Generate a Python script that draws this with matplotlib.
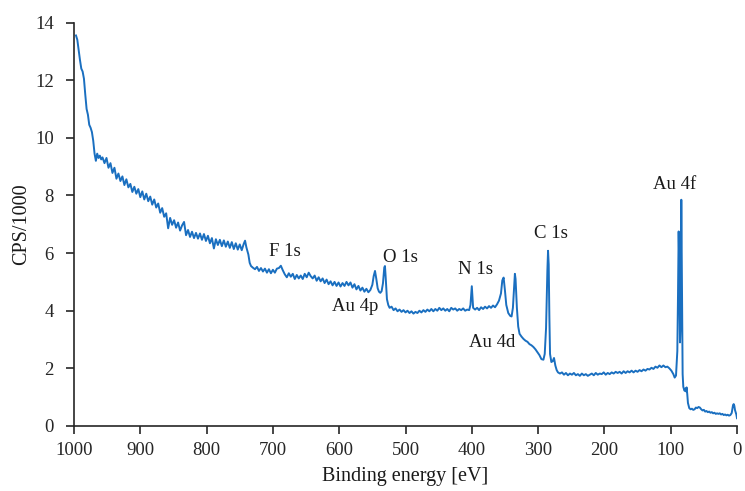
import matplotlib
matplotlib.use("Agg")
import matplotlib.pyplot as plt

plt.rcParams['font.family'] = ['Liberation Serif', 'DejaVu Serif']

binding_energy = [
    997, 995, 993, 991, 989, 987, 985, 983, 981, 979,
    977, 975, 973, 971, 969, 967, 965, 963, 961, 959,
    957, 954, 951, 948, 945, 942, 939, 936, 933, 930,
    927, 924, 921, 918, 915, 912, 909, 906, 903, 900,
    897, 894, 891, 888, 885, 882, 879, 876, 873, 870,
    867, 864, 861, 858, 855, 852, 849, 846, 843, 840,
    837, 834, 831, 828, 825, 822, 819, 816, 813, 810,
    807, 804, 801, 798, 795, 792, 789, 786, 783, 780,
    777, 774, 771, 768, 765, 762, 759, 756, 753, 750,
    747, 744, 742, 740, 737, 735, 733, 730,
    727, 724, 721, 718, 715, 712, 709, 706, 703, 700,
    697, 694, 691, 688, 685, 682, 679, 676, 673, 670,
    667, 664, 661, 658, 655, 652, 649, 646, 643, 640,
    637, 634, 631, 628, 625, 622, 619, 616, 613, 610,
    607, 604, 601, 598, 595, 592, 589, 586, 583, 580,
    577, 574, 571, 568, 565, 562, 559, 556, 553,
    550, 548, 546, 544, 542, 540, 538, 536,
    534, 532, 531, 530, 528, 526, 524, 521, 518, 515,
    512, 509, 506, 503, 500, 497, 494, 491, 488, 485,
    482, 479, 476, 473, 470, 467, 464, 461, 458, 455,
    452, 449, 446, 443, 440, 437, 434, 431, 428, 425,
    422, 419, 416, 413, 410, 407, 404,
    402, 400, 398, 395, 392, 389, 386, 383, 380, 377,
    374, 371, 368, 365,
    362, 359, 356, 354, 352, 350, 348, 345, 342, 340,
    338, 336, 335, 334, 332, 330, 328, 325, 322, 319,
    316, 313, 310, 307, 304, 301, 298, 295, 292, 290,
    288, 286, 285, 284, 283, 282, 280, 278, 276, 274,
    272, 270,
    267, 264, 261, 258, 255, 252, 249, 246, 243, 240,
    237, 234, 231, 228, 225, 222, 219, 216, 213, 210,
    207, 204, 201, 198, 195, 192, 189, 186, 183, 180,
    177, 174, 171, 168, 165, 162, 159, 156, 153, 150,
    147, 144, 141, 138, 135, 132, 129, 126, 123, 120,
    117, 114, 111, 108, 105, 102, 99, 96, 94, 92,
    90, 89, 88, 87, 86, 85, 84, 83, 82, 81,
    80, 79, 78, 77, 76, 75, 74, 72, 70, 68,
    66, 64, 62, 60, 58, 56, 54, 52, 50, 48,
    46, 44, 42, 40, 38, 36, 34, 32, 30, 28,
    26, 24, 22, 20, 18, 16, 14, 12, 10, 8,
    6, 5, 4, 3, 1, 0,
]

cps_thousands = [
    13.55, 13.40, 13.05, 12.70, 12.40, 12.30, 12.05, 11.50, 11.00, 10.80,
    10.45, 10.35, 10.20, 9.90, 9.45, 9.20, 9.45, 9.30, 9.38, 9.25,
    9.32, 9.12, 9.30, 8.96, 9.12, 8.78, 8.96, 8.58, 8.76, 8.50,
    8.66, 8.36, 8.56, 8.28, 8.40, 8.12, 8.30, 8.06, 8.22, 7.94,
    8.14, 7.86, 8.06, 7.80, 7.96, 7.68, 7.86, 7.58, 7.72, 7.40,
    7.56, 7.26, 7.38, 6.86, 7.22, 6.98, 7.14, 6.88, 7.06, 6.78,
    6.96, 7.08, 6.62, 6.80, 6.56, 6.74, 6.52, 6.70, 6.50, 6.68,
    6.46, 6.66, 6.42, 6.60, 6.34, 6.52, 6.16, 6.48, 6.28, 6.46,
    6.24, 6.44, 6.22, 6.40, 6.18, 6.38, 6.14, 6.34, 6.12, 6.30,
    6.10, 6.32, 6.43, 6.20, 5.95, 5.66, 5.55, 5.49,
    5.44, 5.52, 5.38, 5.48, 5.36, 5.46, 5.32, 5.44, 5.30, 5.42,
    5.32, 5.46, 5.48, 5.56, 5.40, 5.26, 5.16, 5.30, 5.18, 5.28,
    5.10, 5.24, 5.12, 5.22, 5.10, 5.28, 5.16, 5.32, 5.20, 5.12,
    5.22, 5.04, 5.16, 5.02, 5.12, 4.96, 5.08, 4.92, 5.02, 4.88,
    5.00, 4.86, 4.98, 4.84, 4.96, 4.86, 5.00, 4.88, 4.98, 4.80,
    4.92, 4.74, 4.86, 4.70, 4.80, 4.66, 4.76, 4.64, 4.72,
    4.90, 5.20, 5.38, 5.10, 4.78, 4.66, 4.62, 4.68,
    4.95, 5.50, 5.55, 5.20, 4.40, 4.20, 4.10, 4.14, 4.02, 4.08,
    3.98, 4.04, 3.96, 4.02, 3.94, 4.00, 3.92, 3.98, 3.90, 3.96,
    3.92, 4.00, 3.94, 4.02, 3.96, 4.04, 3.98, 4.06, 3.98, 4.06,
    4.00, 4.10, 4.02, 4.08, 4.00, 4.06, 3.98, 4.10, 4.04, 4.08,
    4.00, 4.06, 4.02, 4.08, 4.00, 4.04, 4.02,
    4.20, 4.85, 4.10, 4.04, 4.10, 4.02, 4.12, 4.06, 4.14, 4.08,
    4.16, 4.10, 4.18, 4.12,
    4.22, 4.35, 4.60, 5.05, 5.15, 4.70, 4.20, 3.92, 3.82, 3.80,
    4.10, 4.90, 5.28, 5.10, 4.10, 3.45, 3.20, 3.10, 3.02, 2.96,
    2.92, 2.84, 2.80, 2.74, 2.66, 2.56, 2.46, 2.32, 2.30, 2.50,
    3.40, 5.40, 6.08, 5.60, 3.80, 2.50, 2.22, 2.25, 2.36, 2.10,
    1.94, 1.86,
    1.82, 1.86, 1.78, 1.84, 1.76, 1.82, 1.78, 1.84, 1.76, 1.80,
    1.74, 1.82, 1.76, 1.80, 1.74, 1.78, 1.82, 1.76, 1.84, 1.78,
    1.82, 1.80, 1.86, 1.78, 1.84, 1.80, 1.86, 1.82, 1.88, 1.84,
    1.88, 1.82, 1.90, 1.84, 1.90, 1.86, 1.92, 1.86, 1.92, 1.88,
    1.94, 1.90, 1.96, 1.92, 1.98, 1.96, 2.02, 1.98, 2.06, 2.02,
    2.10, 2.04, 2.10, 2.04, 2.06, 2.00, 1.92, 1.80, 1.68, 1.75,
    2.60, 4.50, 6.75, 5.50, 2.90, 3.60, 7.85, 5.00, 1.80, 1.36,
    1.28, 1.22, 1.30, 1.20, 1.34, 1.10, 0.80, 0.62, 0.58, 0.60,
    0.56, 0.58, 0.64, 0.62, 0.66, 0.64, 0.58, 0.54, 0.56, 0.50,
    0.52, 0.48, 0.50, 0.46, 0.48, 0.44, 0.46, 0.42, 0.44, 0.42,
    0.44, 0.40, 0.42, 0.38, 0.40, 0.37, 0.39, 0.36, 0.38, 0.45,
    0.72, 0.76, 0.70, 0.55, 0.40, 0.27,
]

peak_labels = ["F 1s", "O 1s", "N 1s", "C 1s", "Au 4f", "Au 4p", "Au 4d"]
label_energy = [682, 508, 395, 281, 94, 576, 370]
label_cps = [6.04, 5.83, 5.42, 6.67, 8.37, 4.13, 2.88]

x_ticks = [1000, 900, 800, 700, 600, 500, 400, 300, 200, 100, 0]
y_ticks = [0, 2, 4, 6, 8, 10, 12, 14]

fig = plt.figure(figsize=(7.45, 4.91), dpi=100)
ax = fig.add_axes([74 / 745, 1 - 426 / 491, (737 - 74) / 745, (426 - 22.5) / 491])

ax.plot(binding_energy, cps_thousands, color="#1a6fc0", linewidth=1.4)

for txt, xe, yc in zip(peak_labels, label_energy, label_cps):
    ax.text(xe, yc, txt, ha="center", va="center", fontsize=13.5, color="#1a1a1a")

ax.set_xlim(1000, 0)
ax.set_ylim(0, 14)
ax.set_xticks(x_ticks)
ax.set_yticks(y_ticks)
ax.tick_params(axis="both", direction="out", length=5.5, width=1.2,
               labelsize=13.5, colors="#262626")
ax.tick_params(axis="x", pad=6)
ax.tick_params(axis="y", pad=9)
for side in ["top", "right"]:
    ax.spines[side].set_visible(False)
for side in ["left", "bottom"]:
    ax.spines[side].set_linewidth(1.2)
    ax.spines[side].set_color("#262626")

ax.set_xlabel("Binding energy [eV]", fontsize=14.5, color="#1a1a1a", labelpad=6)
ax.set_ylabel("CPS/1000", fontsize=14.5, color="#1a1a1a", labelpad=3)

fig.savefig("out.png", dpi=100)
